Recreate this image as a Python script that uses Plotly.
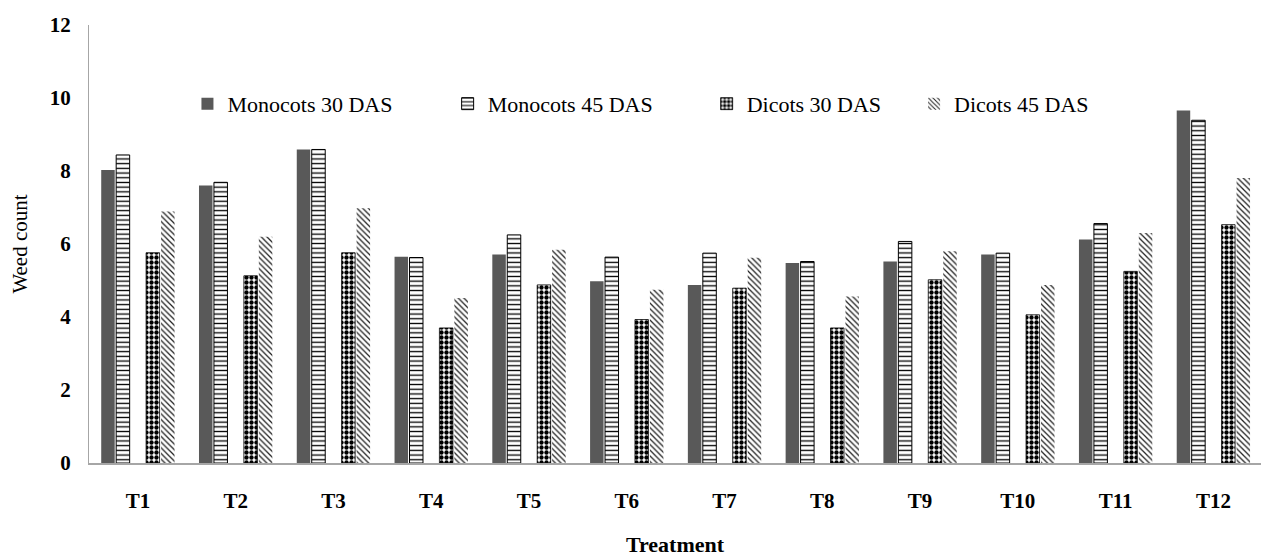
import plotly.graph_objects as go

# Weed count per treatment, monocots and dicots at 30 and 45 DAS
treatments = ["T1", "T2", "T3", "T4", "T5", "T6", "T7", "T8", "T9", "T10", "T11", "T12"]
mono_30 = [8.03, 7.60, 8.59, 5.65, 5.71, 4.98, 4.88, 5.48, 5.52, 5.71, 6.12, 9.66]
mono_45 = [8.44, 7.69, 8.59, 5.63, 6.25, 5.64, 5.75, 5.52, 6.07, 5.75, 6.56, 9.39]
dicot_30 = [5.76, 5.13, 5.76, 3.70, 4.88, 3.93, 4.79, 3.70, 5.02, 4.06, 5.25, 6.53]
dicot_45 = [6.89, 6.20, 6.98, 4.52, 5.84, 4.75, 5.62, 4.56, 5.80, 4.88, 6.30, 7.81]
y_ticks = [0, 2, 4, 6, 8, 10, 12]

SERIF = "Liberation Serif"
BAR_W = 0.138
SLOT = 0.153

series = [
    ("Monocots 30 DAS", mono_30, -2, dict(color="#595959", line=dict(width=0)), "legend"),
    ("Monocots 45 DAS", mono_45, -1,
     dict(color="white", line=dict(color="black", width=1),
          pattern=dict(shape="-", size=4.7, solidity=0.28, fgcolor="black",
                       bgcolor="white", fillmode="replace")), "legend2"),
    ("Dicots 30 DAS", dicot_30, 1,
     dict(color="white", line=dict(color="black", width=0.8),
          pattern=dict(shape=".", size=5, solidity=0.6, fgcolor="black",
                       bgcolor="white", fillmode="replace")), "legend3"),
    ("Dicots 45 DAS", dicot_45, 2,
     dict(color="white", line=dict(width=0),
          pattern=dict(shape="\\", size=4, solidity=0.32, fgcolor="#222222",
                       bgcolor="white", fillmode="replace")), "legend4"),
]

fig = go.Figure()
for name, vals, slot, marker, leg in series:
    fig.add_trace(go.Bar(
        x=treatments, y=vals, name=name, marker=marker,
        width=BAR_W, offset=slot * SLOT - BAR_W / 2,
        legend=leg,
    ))

legend_font = dict(family=SERIF, size=22, color="black")
leg_common = dict(orientation="h", yanchor="middle", y=0.82, xanchor="left",
                  bgcolor="rgba(0,0,0,0)", font=legend_font,
                  itemwidth=30, tracegroupgap=0)

fig.update_layout(
    width=1261, height=557,
    margin=dict(l=89, r=0, t=25, b=94),
    paper_bgcolor="white", plot_bgcolor="white",
    font=dict(family=SERIF, size=22, color="black"),
    barmode="overlay",
    showlegend=True,
    legend=dict(x=0.084, **leg_common),
    legend2=dict(x=0.306, **leg_common),
    legend3=dict(x=0.527, **leg_common),
    legend4=dict(x=0.704, **leg_common),
    xaxis=dict(
        type="category", range=[-0.5, 11.487],
        showline=True, linecolor="#a6a6a6", linewidth=2,
        ticks="", showgrid=False, zeroline=False, ticklabelstandoff=18,
        tickfont=dict(family=SERIF, size=21, color="black", weight="bold"),
        title=dict(text="Treatment", standoff=24,
                   font=dict(family=SERIF, size=22, color="black", weight="bold")),
    ),
    yaxis=dict(
        range=[0, 12], tickvals=y_ticks,
        showline=True, linecolor="#a6a6a6", linewidth=1,
        ticks="", showgrid=False, zeroline=False, ticklabelstandoff=13,
        tickfont=dict(family=SERIF, size=21, color="black", weight="bold"),
        title=dict(text="Weed count", standoff=16,
                   font=dict(family=SERIF, size=21, color="black")),
    ),
)

fig.write_html("out.html")
